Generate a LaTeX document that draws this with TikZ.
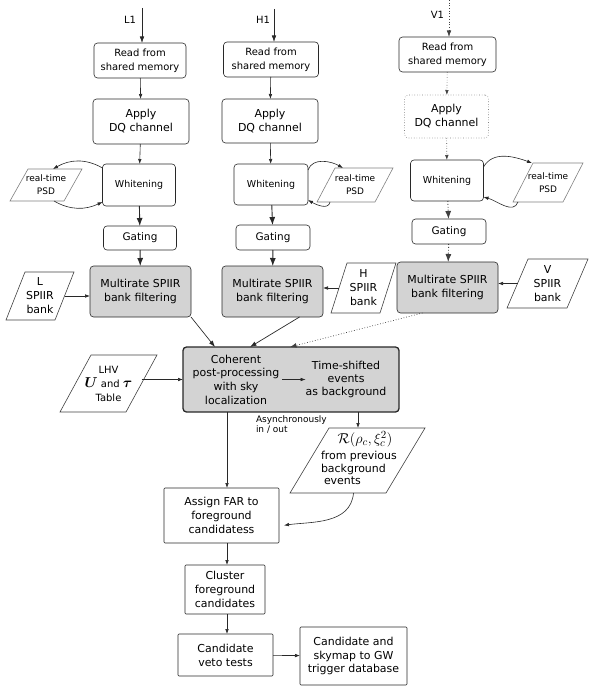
\documentclass[tikz,border=0pt]{standalone}
\usepackage[no-math]{fontspec}
\setmainfont{DejaVu Sans}
\usepackage{bm}
\usetikzlibrary{shapes.geometric,arrows.meta,calc}
\definecolor{boxgray}{RGB}{211,211,211}
\definecolor{linec}{RGB}{40,40,40}
\newcommand\fsz[2]{\fontsize{#1}{#2}\selectfont}
% parallelogram drawn on the frame of a (not drawn) rectangular node
\newcommand\pgram[3][black!75]{\draw[#1,line width=0.6bp,line join=miter] (#2.south west) -- ($(#2.south east)+(-#3,0)$) -- (#2.north east) -- ($(#2.north west)+(#3,0)$) -- cycle;}
\begin{document}
\begin{tikzpicture}[x=1bp,y=-1bp,
  every node/.style={inner sep=0pt,outer sep=0pt},
  sz/.style 2 args={minimum width=#1,minimum height=#2},
  rbox/.style={draw=linec,line width=0.6bp,rounded corners=3.5bp,align=center},
  gbox/.style={rbox,fill=boxgray},
  sbox/.style={draw=linec,line width=0.6bp,rounded corners=1bp,align=center},
  pnode/.style={align=center},
  arr/.style={draw=linec,line width=0.6bp,-{Latex[length=5bp,width=3.6bp]}},
  marr/.style={draw=linec,line width=0.7bp,-{Latex[length=6.5bp,width=4.6bp]}},
  barr/.style={draw=linec,line width=0.9bp,-{Latex[length=8bp,width=6bp]}},
  dots/.style={dotted,draw=black!75},
]
\useasboundingbox (0,0) rectangle (595,696);

% ---------- labels ----------
\node[font=\fsz{10}{12},anchor=east] (lL1) at (136,20) {L1};
\coordinate (sL1) at (142,8);
\node[font=\fsz{10}{12},anchor=east] (lH1) at (270,20) {H1};
\coordinate (sH1) at (274,9);
\node[font=\fsz{10}{12},anchor=east] (lV1) at (444,15) {V1};
\coordinate (sV1) at (449,0);

% ---------- L column ----------
\node[rbox,font=\fsz{10}{14},sz={92bp}{35bp}] (readL) at (140,60.5) {Read from\\shared memory};
\node[rbox,font=\fsz{11}{14},sz={96bp}{45bp}] (dqL) at (141,121.5) {Apply\\DQ channel};
\node[rbox,font=\fsz{9.5}{12},sz={73bp}{42bp}] (whL) at (139,185) {Whitening};
\node[rbox,font=\fsz{10.5}{12},sz={73bp}{24bp}] (gatL) at (140,238) {Gating};
\node[gbox,font=\fsz{11}{14},sz={101bp}{51bp}] (mrL) at (140.5,291.5) {Multirate SPIIR\\bank filtering};

% ---------- H column ----------
\node[rbox,font=\fsz{10}{14},sz={95bp}{35bp}] (readH) at (271,59.5) {Read from\\shared memory};
\node[rbox,font=\fsz{11}{14},sz={96bp}{44bp}] (dqH) at (270,121) {Apply\\DQ channel};
\node[rbox,font=\fsz{9.5}{12},sz={74bp}{41bp}] (whH) at (271,184.5) {Whitening};
\node[rbox,font=\fsz{10.5}{12},sz={74bp}{25bp}] (gatH) at (273,237.5) {Gating};
\node[gbox,font=\fsz{11}{14},sz={101bp}{51bp}] (mrH) at (272.5,291.5) {Multirate SPIIR\\bank filtering};

% ---------- V column ----------
\node[rbox,font=\fsz{10}{14},sz={97bp}{35bp}] (readV) at (447.5,54.5) {Read from\\shared memory};
\node[rbox,draw=black!50,dotted,font=\fsz{11}{14},sz={84bp}{43bp}] (dqV) at (446.5,116.5) {Apply\\DQ channel};
\node[rbox,font=\fsz{9.5}{12},sz={73bp}{41bp}] (whV) at (447,180.5) {Whitening};
\node[rbox,font=\fsz{10.5}{12},sz={74bp}{25bp}] (gatV) at (449,231.5) {Gating};
\node[gbox,font=\fsz{11}{14},sz={101bp}{51bp}] (mrV) at (447.5,287.5) {Multirate SPIIR\\bank filtering};

% ---------- PSD parallelograms ----------
\node[pnode,font=\fsz{9}{13},sz={72bp}{32bp}] (psdL) at (46,185) {real-time\\PSD};
\pgram[black!50]{psdL}{18}
\node[pnode,font=\fsz{9}{13},sz={76bp}{34bp}] (psdH) at (355,185) {real-time\\PSD};
\pgram[black!50]{psdH}{18}
\node[pnode,font=\fsz{9}{13},sz={70bp}{39bp}] (psdV) at (548,182.5) {real-time\\PSD};
\pgram[black!50]{psdV}{20}

% ---------- SPIIR banks ----------
\node[pnode,font=\fsz{11}{14},sz={68bp}{48bp}] (bankL) at (40,296) {L\\SPIIR\\bank};
\pgram{bankL}{19}
\node[pnode,font=\fsz{11}{14},sz={65bp}{50bp}] (bankH) at (363.5,288) {H\\SPIIR\\bank};
\pgram{bankH}{16}
\node[pnode,font=\fsz{11}{14},sz={81bp}{49bp}] (bankV) at (547.5,283.5) {V\\SPIIR\\bank};
\pgram{bankV}{21}

% ---------- coherent ----------
\node[rbox,fill=boxgray,line width=1.3bp,sz={216bp}{65bp}] (coh) at (291,379.5) {};
\node[font=\fsz{11}{13.7},align=center,inner sep=3bp] (cohA) at (236,379.5) {Coherent\\post-processing\\with sky\\localization};
\node[font=\fsz{11}{13.5},align=center] (cohB) at (346,379.5) {Time-shifted\\events\\as background};

\node[pnode,font=\fsz{10}{14},sz={97bp}{57bp}] (lhv) at (108.5,383.5) {LHV\\{\fsz{14}{14}$\bm{U}$} and {\fsz{14}{14}$\bm{\tau}$}\\Table};
\pgram{lhv}{31}

\node[font=\fsz{9}{8},align=left,anchor=north west] (async) at (256,416) {Asynchronously\\in / out};

\node[sz={135bp}{65bp}] (Rp) at (357.5,460.5) {};
\pgram{Rp}{39}
\node[font=\fsz{15}{15}] (Rf) at (365,439) {$\mathcal{R}(\rho_c,\xi_c^2)$};
\node[font=\fsz{11}{12.5},align=left,anchor=north west] (Rt) at (321,451.5) {from previous\\background\\\hspace*{3bp}events};

% ---------- lower flow ----------
\node[sbox,font=\fsz{11}{14},sz={115bp}{55bp}] (far) at (221.5,515.5) {Assign FAR to\\foreground\\candidatess};
\node[sbox,font=\fsz{11}{14},sz={80bp}{49bp}] (clu) at (225,589.5) {Cluster\\foreground\\candidates};
\node[sbox,font=\fsz{11}{14},sz={95bp}{42bp}] (veto) at (225.5,655) {Candidate\\veto tests};
\node[sbox,font=\fsz{11}{14},sz={107bp}{58bp}] (sky) at (353.5,656) {Candidate and\\skymap to GW\\trigger database};

% ---------- connectors: columns ----------
\draw[marr] (sL1) -- (sL1 |- readL.north);
\draw[marr] (sH1) -- (sH1 |- readH.north);
\draw[marr,dots] (sV1) -- (sV1 |- readV.north);

\draw[arr] (readL) -- (dqL);
\draw[arr] (dqL) -- (whL);
\draw[barr] (whL) -- (gatL);
\draw[barr] (gatL) -- (mrL);

\draw[arr] (readH) -- (dqH);
\draw[arr] (dqH) -- (whH);
\draw[barr] (whH) -- (gatH);
\draw[barr] (gatH) -- (mrH);

\draw[arr,dots] (readV) -- (dqV);
\draw[arr,dots] (dqV) -- (whV);
\draw[barr,dots] (whV) -- (gatV);
\draw[barr,dots] (gatV) -- (mrV);

% ---------- PSD loops ----------
\draw[arr] ([yshift=-4bp]whL.north west) to[out=150,in=30] ([xshift=7bp]psdL.north);
\draw[arr] ([xshift=8bp]psdL.south) to[out=-30,in=205] ([yshift=4bp]whL.south west);
\draw[arr] ([yshift=-6bp]whH.north east) to[out=70,in=150] ([xshift=-12bp]psdH.north);
\draw[arr] ([xshift=-25bp]psdH.south) to[out=-100,in=-30] ([yshift=5bp]whH.south east);
\draw[arr] ([yshift=-7bp]whV.north east) to[out=60,in=160] ([xshift=-16bp]psdV.north);
\draw[arr] ([xshift=-30bp]psdV.south) to[out=-110,in=-15] ([yshift=4bp]whV.south east);

% ---------- banks ----------
\draw[arr] ($(bankL.east)+(-9.5,0)$) -- (mrL.west |- bankL.east);
\draw[arr] ($(bankH.west)+(8,0)$) -- (mrH.east |- bankH.west);
\draw[arr] ($(bankV.west)+(10.5,0)$) -- (mrV.east |- bankV.west);

% ---------- into coherent ----------
\draw[marr] (mrL.south east) -- ([xshift=-76bp]coh.north);
\draw[marr] ([xshift=27bp]mrH.south) -- ([xshift=-41bp]coh.north);
\draw[marr,dots] ([xshift=-25bp]mrV.south) -- ([xshift=-1bp]coh.north);
\draw[arr] ($(lhv.east)+(-15.5,-4)$) -- (coh.west |- {$(lhv.east)+(0,-4)$});
\draw[arr] (cohA.east) -- (cohB.west);

% ---------- lower ----------
\coordinate (xin) at ($(far.north)+(5.5,0)$);
\coordinate (rin) at ($(Rp.north)+(0.5,0)$);
\draw[arr] (xin |- coh.south) -- (xin);
\draw[arr] (rin |- coh.south) -- (rin);
\draw[arr,shorten >=5bp] ([xshift=-4bp]Rp.south) to[out=-95,in=8] ([yshift=-10.5bp]far.east);
\draw[arr] (xin |- far.south) -- (xin |- clu.north);
\draw[arr] (xin |- clu.south) -- (xin |- veto.north);
\draw[arr] (veto) -- (sky);
\end{tikzpicture}
\end{document}
